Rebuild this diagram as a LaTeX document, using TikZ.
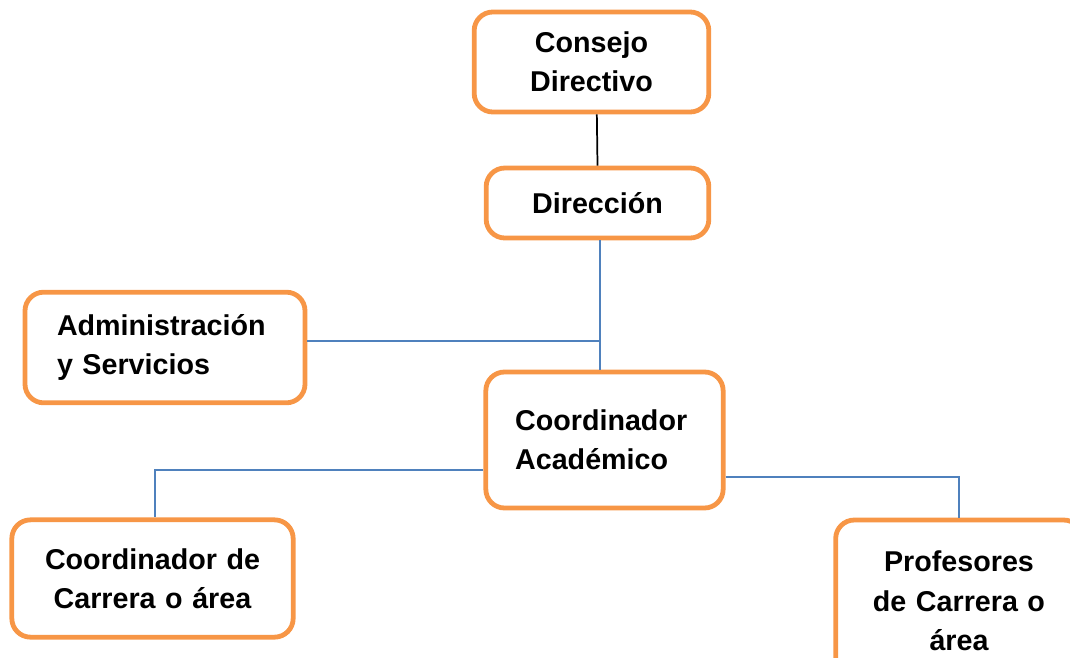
\documentclass[tikz,border=0pt]{standalone}
\usepackage{fontspec}
\setmainfont{Liberation Sans}

\definecolor{boxorange}{HTML}{F79646}
\definecolor{lineblue}{HTML}{4F81BD}

\tikzset{
  orgbox/.style={draw=boxorange, line width=3.6pt, rounded corners=14pt, fill=white,
    inner sep=0pt, font=\fontsize{21.5}{29.5}\selectfont\bfseries},
  blueline/.style={draw=lineblue, line width=1.1pt},
}

\begin{document}
\begin{tikzpicture}[x=0.75pt,y=-0.75pt]
% page frame
\clip (0,0) rectangle (1070,657);

% Place nodes
\node[orgbox, minimum width=176pt, minimum height=75pt, text width=150pt, align=center] (consejo) at (591.5,62) {Consejo\\Directivo};
\node[orgbox, minimum width=167pt, minimum height=52.5pt, text width=150pt, align=center] (direccion) at (597.5,203) {Dirección};
\node[orgbox, minimum width=210pt, minimum height=83pt, text width=162pt, align=left] (admin) at (165,347.5) {Administración\\y Servicios};
\node[orgbox, minimum width=178pt, minimum height=102pt, text width=134pt, align=left] (coordacad) at (604.5,440) {Coordinador\\Académico};
\node[orgbox, minimum width=211pt, minimum height=88pt, text width=190pt, align=center] (coordcarrera) at (152.5,578.5) {Coordinador de\\Carrera o área};
\node[orgbox, minimum width=185pt, minimum height=121.5pt, text width=170pt, align=center] (profesores) at (959,601) {Profesores\\de Carrera o\\área};

% connectors
\coordinate (trunk) at (600,341);
\coordinate (leftdrop) at (155,470);
\coordinate (rightdrop) at (959,477);

\draw[black, line width=1.3pt] ([xshift=4pt]consejo.south) -- (direccion.north); %top
\draw[blueline] (direccion.south -| trunk) -- (coordacad.north -| trunk);
\draw[blueline] (admin.east |- trunk) -- (trunk);

\draw[blueline] (coordacad.west |- leftdrop) -- (leftdrop) -- (leftdrop |- coordcarrera.north); %left
\draw[blueline] (coordacad.east |- rightdrop) -- (rightdrop) -- (rightdrop |- profesores.north); %right

\end{tikzpicture}
\end{document}
